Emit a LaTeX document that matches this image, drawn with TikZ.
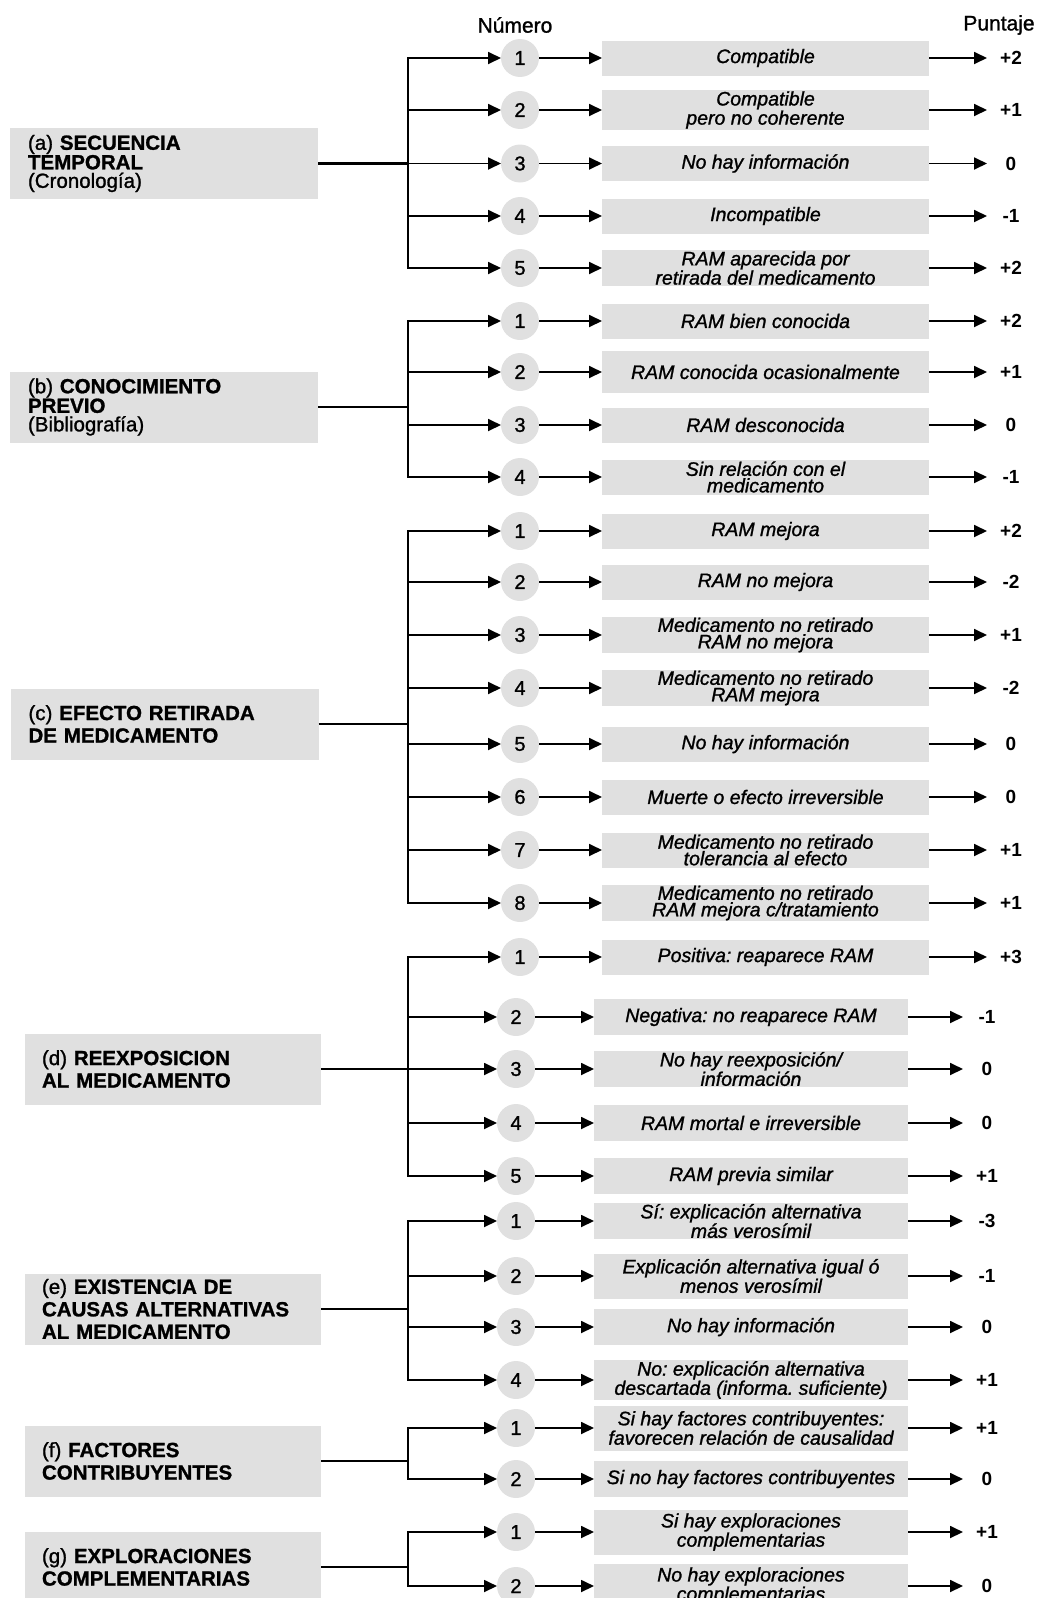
\documentclass[tikz,border=0pt]{standalone}
\usepackage{fontspec}
\setmainfont{Liberation Sans}
\newfontfamily\medfont{Liberation Sans}[FakeBold=1.2]
\usetikzlibrary{arrows.meta,positioning}
\definecolor{boxgray}{HTML}{E0E0E0}
\frenchspacing

\begin{document}
\begin{tikzpicture}[x=1pt, y=-1pt,
  crit/.style={fill=boxgray, minimum height=71pt, text width=272pt,
               inner xsep=18pt, inner ysep=0pt, outer sep=0pt, align=left,
               font=\fontsize{20.5}{22.5}\medfont},
  critl/.style={text width=262pt, inner xsep=17pt},
  num/.style={circle, fill=boxgray, minimum size=38pt, inner sep=0pt,
              outer sep=0pt, font=\fontsize{20}{20}\medfont},
  opt/.style={fill=boxgray, minimum width=327pt, minimum height=35pt,
              inner xsep=2pt, inner ysep=1pt, outer sep=0pt, align=center,
              font=\fontsize{19.5}{16.5}\medfont\itshape},
  low/.style={minimum width=314pt, minimum height=36pt,
              font=\fontsize{19.5}{18}\medfont\itshape},
  pts/.style={minimum width=48pt, inner sep=0pt, outer sep=0pt,
              font=\fontsize{19}{19}\selectfont\bfseries},
  hd/.style={font=\fontsize{21}{21}\medfont},
  arr/.style={line width=1.8pt, -{Triangle[length=13pt, width=12pt]}},
  trunk/.style={line width=2.6pt}]
\useasboundingbox (0,0) rectangle (1040,1598);

\node[hd] (hnum) at (515,25) {Número};
\node[hd] (hpts) at (999,25) {Puntaje};

% (a) secuencia temporal
\node[crit, font=\fontsize{20.5}{18.5}\medfont] (a) at (164,163.5)
  {(a) \textbf{SECUENCIA}\\ \textbf{TEMPORAL}\\ (Cronología)};
\coordinate (ah) at (408,163.5);
\node[num] (a1) at (520,58) {1};
\node[opt, right=63pt of a1] (a1o) {Compatible};
\node[pts, right=58pt of a1o] (a1p) {+2};
\node[num] (a2) at (520,110) {2};
\node[opt, right=63pt of a2] (a2o) {Compatible\\ pero no coherente};
\node[pts, right=58pt of a2o] (a2p) {+1};
\node[num] (a3) at (520,163.5) {3};
\node[opt, right=63pt of a3] (a3o) {No hay información};
\node[pts, right=58pt of a3o] (a3p) {0};
\node[num] (a4) at (520,216) {4};
\node[opt, right=63pt of a4] (a4o) {Incompatible};
\node[pts, right=58pt of a4o] (a4p) {-1};
\node[num] (a5) at (520,268) {5};
\node[opt, right=63pt of a5] (a5o) {RAM aparecida por\\ retirada del medicamento};
\node[pts, right=58pt of a5o] (a5p) {+2};

% (b) conocimiento previo
\node[crit, font=\fontsize{20.5}{18.5}\medfont] (b) at (164,407)
  {(b) \textbf{CONOCIMIENTO}\\ \textbf{PREVIO}\\ (Bibliografía)};
\coordinate (bh) at (408,407);
\node[num] (b1) at (520,321) {1};
\node[opt, right=63pt of b1] (b1o) {RAM bien conocida};
\node[pts, right=58pt of b1o] (b1p) {+2};
\node[num] (b2) at (520,372) {2};
\node[opt, minimum height=42pt, right=63pt of b2] (b2o) {RAM conocida ocasionalmente};
\node[pts, right=58pt of b2o] (b2p) {+1};
\node[num] (b3) at (520,425) {3};
\node[opt, right=63pt of b3] (b3o) {RAM desconocida};
\node[pts, right=58pt of b3o] (b3p) {0};
\node[num] (b4) at (520,477) {4};
\node[opt, right=63pt of b4] (b4o) {Sin relación con el\\ medicamento};
\node[pts, right=58pt of b4o] (b4p) {-1};

% (c) efecto retirada
\node[crit] (c) at (164.5,724) {(c) \textbf{EFECTO RETIRADA}\\ \textbf{DE MEDICAMENTO}};
\coordinate (ch) at (408,724);
\node[num] (c1) at (520,531) {1};
\node[opt, right=63pt of c1] (c1o) {RAM mejora};
\node[pts, right=58pt of c1o] (c1p) {+2};
\node[num] (c2) at (520,582) {2};
\node[opt, right=63pt of c2] (c2o) {RAM no mejora};
\node[pts, right=58pt of c2o] (c2p) {-2};
\node[num] (c3) at (520,635) {3};
\node[opt, right=63pt of c3] (c3o) {Medicamento no retirado\\ RAM no mejora};
\node[pts, right=58pt of c3o] (c3p) {+1};
\node[num] (c4) at (520,688) {4};
\node[opt, right=63pt of c4] (c4o) {Medicamento no retirado\\ RAM mejora};
\node[pts, right=58pt of c4o] (c4p) {-2};
\node[num] (c5) at (520,744) {5};
\node[opt, right=63pt of c5] (c5o) {No hay información};
\node[pts, right=58pt of c5o] (c5p) {0};
\node[num] (c6) at (520,797) {6};
\node[opt, right=63pt of c6] (c6o) {Muerte o efecto irreversible};
\node[pts, right=58pt of c6o] (c6p) {0};
\node[num] (c7) at (520,850) {7};
\node[opt, right=63pt of c7] (c7o) {Medicamento no retirado\\ tolerancia al efecto};
\node[pts, right=58pt of c7o] (c7p) {+1};
\node[num] (c8) at (520,903) {8};
\node[opt, right=63pt of c8] (c8o) {Medicamento no retirado\\ RAM mejora c/tratamiento};
\node[pts, right=58pt of c8o] (c8p) {+1};

% (d) reexposicion
\node[crit, critl] (d) at (173,1069) {(d) \textbf{REEXPOSICION}\\ \textbf{AL MEDICAMENTO}};
\coordinate (dh) at (408,1069);
\node[num] (d1) at (520,957) {1};
\node[opt, right=63pt of d1] (d1o) {Positiva: reaparece RAM};
\node[pts, right=58pt of d1o] (d1p) {+3};
\node[num] (d2) at (516,1017) {2};
\node[opt, low, right=59pt of d2] (d2o) {Negativa: no reaparece RAM};
\node[pts, right=55pt of d2o] (d2p) {-1};
\node[num] (d3) at (516,1069) {3};
\node[opt, low, right=59pt of d3] (d3o) {No hay reexposición/\\ información};
\node[pts, right=55pt of d3o] (d3p) {0};
\node[num] (d4) at (516,1123) {4};
\node[opt, low, right=59pt of d4] (d4o) {RAM mortal e irreversible};
\node[pts, right=55pt of d4o] (d4p) {0};
\node[num] (d5) at (516,1176) {5};
\node[opt, low, right=59pt of d5] (d5o) {RAM previa similar};
\node[pts, right=55pt of d5o] (d5p) {+1};

% (e) causas alternativas
\node[crit, critl] (e) at (173,1309)
  {(e) \textbf{EXISTENCIA DE}\\ \textbf{CAUSAS ALTERNATIVAS}\\ \textbf{AL MEDICAMENTO}};
\coordinate (eh) at (408,1309);
\node[num] (e1) at (516,1221) {1};
\node[opt, low, right=59pt of e1] (e1o) {Sí: explicación alternativa\\ más verosímil};
\node[pts, right=55pt of e1o] (e1p) {-3};
\node[num] (e2) at (516,1276) {2};
\node[opt, low, minimum height=45pt, right=59pt of e2] (e2o)
  {Explicación alternativa igual ó\\ menos verosímil};
\node[pts, right=55pt of e2o] (e2p) {-1};
\node[num] (e3) at (516,1327) {3};
\node[opt, low, right=59pt of e3] (e3o) {No hay información};
\node[pts, right=55pt of e3o] (e3p) {0};
\node[num] (e4) at (516,1380) {4};
\node[opt, low, right=59pt of e4] (e4o)
  {No: explicación alternativa\\ descartada (informa. suficiente)};
\node[pts, right=55pt of e4o] (e4p) {+1};

% (f) factores contribuyentes
\node[crit, critl] (f) at (173,1461) {(f) \textbf{FACTORES}\\ \textbf{CONTRIBUYENTES}};
\coordinate (fh) at (408,1461);
\node[num] (f1) at (516,1428) {1};
\node[opt, low, minimum height=45pt, right=59pt of f1] (f1o)
  {Si hay factores contribuyentes:\\ favorecen relación de causalidad};
\node[pts, right=55pt of f1o] (f1p) {+1};
\node[num] (f2) at (516,1479) {2};
\node[opt, low, right=59pt of f2] (f2o) {Si no hay factores contribuyentes};
\node[pts, right=55pt of f2o] (f2p) {0};

% (g) exploraciones complementarias
\node[crit, critl] (g) at (173,1567) {(g) \textbf{EXPLORACIONES}\\ \textbf{COMPLEMENTARIAS}};
\coordinate (gh) at (408,1567);
\node[num] (g1) at (516,1532) {1};
\node[opt, low, minimum height=45pt, right=59pt of g1] (g1o)
  {Si hay exploraciones\\ complementarias};
\node[pts, right=55pt of g1o] (g1p) {+1};
\node[num] (g2) at (516,1586) {2};
\node[opt, low, minimum height=45pt, right=59pt of g2] (g2o)
  {No hay exploraciones\\ complementarias};
\node[pts, right=55pt of g2o] (g2p) {0};

% trunks and branches
\draw[trunk] (a) -- (ah);
\draw[arr] (ah) |- (a1); \draw[arr] (a1) -- (a1o); \draw[arr] (a1o) -- (a1p);
\draw[arr] (ah) |- (a2); \draw[arr] (a2) -- (a2o); \draw[arr] (a2o) -- (a2p);
\draw[arr] (ah) -- (a3); \draw[arr] (a3) -- (a3o); \draw[arr] (a3o) -- (a3p);
\draw[arr] (ah) |- (a4); \draw[arr] (a4) -- (a4o); \draw[arr] (a4o) -- (a4p);
\draw[arr] (ah) |- (a5); \draw[arr] (a5) -- (a5o); \draw[arr] (a5o) -- (a5p);
\draw[trunk] (b) -- (bh);
\draw[arr] (bh) |- (b1); \draw[arr] (b1) -- (b1o); \draw[arr] (b1o) -- (b1p);
\draw[arr] (bh) |- (b2); \draw[arr] (b2) -- (b2o); \draw[arr] (b2o) -- (b2p);
\draw[arr] (bh) |- (b3); \draw[arr] (b3) -- (b3o); \draw[arr] (b3o) -- (b3p);
\draw[arr] (bh) |- (b4); \draw[arr] (b4) -- (b4o); \draw[arr] (b4o) -- (b4p);
\draw[trunk] (c) -- (ch);
\draw[arr] (ch) |- (c1); \draw[arr] (c1) -- (c1o); \draw[arr] (c1o) -- (c1p);
\draw[arr] (ch) |- (c2); \draw[arr] (c2) -- (c2o); \draw[arr] (c2o) -- (c2p);
\draw[arr] (ch) |- (c3); \draw[arr] (c3) -- (c3o); \draw[arr] (c3o) -- (c3p);
\draw[arr] (ch) |- (c4); \draw[arr] (c4) -- (c4o); \draw[arr] (c4o) -- (c4p);
\draw[arr] (ch) |- (c5); \draw[arr] (c5) -- (c5o); \draw[arr] (c5o) -- (c5p);
\draw[arr] (ch) |- (c6); \draw[arr] (c6) -- (c6o); \draw[arr] (c6o) -- (c6p);
\draw[arr] (ch) |- (c7); \draw[arr] (c7) -- (c7o); \draw[arr] (c7o) -- (c7p);
\draw[arr] (ch) |- (c8); \draw[arr] (c8) -- (c8o); \draw[arr] (c8o) -- (c8p);
\draw[trunk] (d) -- (dh);
\draw[arr] (dh) |- (d1); \draw[arr] (d1) -- (d1o); \draw[arr] (d1o) -- (d1p);
\draw[arr] (dh) |- (d2); \draw[arr] (d2) -- (d2o); \draw[arr] (d2o) -- (d2p);
\draw[arr] (dh) -- (d3); \draw[arr] (d3) -- (d3o); \draw[arr] (d3o) -- (d3p);
\draw[arr] (dh) |- (d4); \draw[arr] (d4) -- (d4o); \draw[arr] (d4o) -- (d4p);
\draw[arr] (dh) |- (d5); \draw[arr] (d5) -- (d5o); \draw[arr] (d5o) -- (d5p);
\draw[trunk] (e) -- (eh);
\draw[arr] (eh) |- (e1); \draw[arr] (e1) -- (e1o); \draw[arr] (e1o) -- (e1p);
\draw[arr] (eh) |- (e2); \draw[arr] (e2) -- (e2o); \draw[arr] (e2o) -- (e2p);
\draw[arr] (eh) |- (e3); \draw[arr] (e3) -- (e3o); \draw[arr] (e3o) -- (e3p);
\draw[arr] (eh) |- (e4); \draw[arr] (e4) -- (e4o); \draw[arr] (e4o) -- (e4p);
\draw[trunk] (f) -- (fh);
\draw[arr] (fh) |- (f1); \draw[arr] (f1) -- (f1o); \draw[arr] (f1o) -- (f1p);
\draw[arr] (fh) |- (f2); \draw[arr] (f2) -- (f2o); \draw[arr] (f2o) -- (f2p);
\draw[trunk] (g) -- (gh);
\draw[arr] (gh) |- (g1); \draw[arr] (g1) -- (g1o); \draw[arr] (g1o) -- (g1p);
\draw[arr] (gh) |- (g2); \draw[arr] (g2) -- (g2o); \draw[arr] (g2o) -- (g2p);
\end{tikzpicture}
\end{document}
